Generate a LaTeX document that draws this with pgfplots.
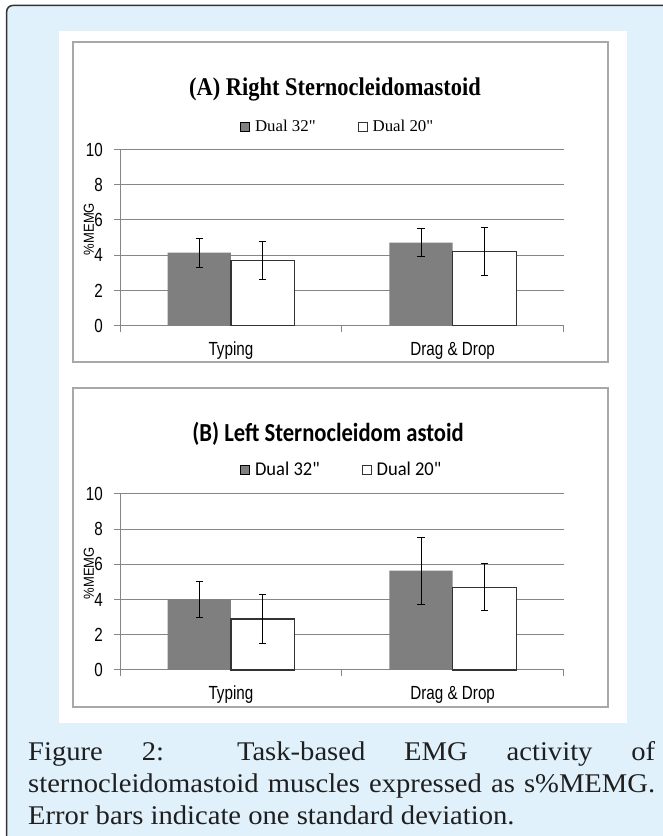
\documentclass[border=0pt]{standalone}
\usepackage{fontspec}
\usepackage{pgfplots}
\pgfplotsset{compat=1.18}
\setmainfont{Liberation Serif}
\newfontfamily\axisfont{Liberation Sans}[FakeStretch=0.8]
\newfontfamily\ylabfont{Liberation Sans}[FakeStretch=0.9]
\newfontfamily\serifA{Liberation Serif}[FakeStretch=0.88]
\newfontfamily\serifleg{Liberation Serif}[FakeStretch=1.02]
\newfontfamily\calib{Carlito}[FakeStretch=0.95]
\newfontfamily\calibT{Carlito}[FakeStretch=0.87]
\newfontfamily\capfont{Liberation Serif}[FakeStretch=1.06]
\definecolor{bgblue}{HTML}{E0F1FB}
\definecolor{bargray}{HTML}{7F7F7F}
\definecolor{gridgray}{HTML}{868686}
\definecolor{framegray}{HTML}{A8A8A8}

\pgfplotsset{
  legsq/.style={legend image code/.code={\draw[##1, line width=0.9pt] (0pt,-4.5pt) rectangle (9pt,4.5pt);}},
  emgaxis/.style={
    scale only axis, width=443.6pt, height=176.2pt,
    anchor=south west,
    xmin=-0.5, xmax=1.5, ymin=0, ymax=10,
    ybar=0pt, bar width=63.4pt,
    ytick={0,2,4,6,8,10}, yticklabels={0,2,4,6,8,10},
    xtick={0,1}, xticklabels={Typing, Drag \& Drop},
    xtick style={draw=none},
    extra x ticks={-0.5,0.5,1.5}, extra x tick labels={},
    extra x tick style={xtick style={draw=gridgray, line width=1pt}},
    tick align=outside, major tick length=6pt,
    ytick style={draw=gridgray, line width=1pt},
    ymajorgrids, grid style={gridgray, line width=1pt},
    axis x line*=bottom, axis y line*=left,
    axis line style={gridgray, line width=1pt, -},
    yticklabel style={font=\axisfont\fontsize{19}{19}\selectfont, text=black, anchor=east, inner sep=0pt, xshift=-11pt},
    xticklabel style={font=\axisfont\fontsize{19}{19}\selectfont, text=black, anchor=base, inner sep=0pt, yshift=-24pt},
    ylabel={\%MEMG},
    ylabel style={font=\ylabfont\fontsize{14.5}{14.5}\selectfont, at={(axis description cs:-0.0699,0.549)}, anchor=center, inner sep=0pt},
    legend columns=2,
    legend cell align=left,
    legend style={draw=none, fill=none, anchor=west, inner sep=0pt, nodes={inner sep=0pt},
      /tikz/every odd column/.append style={column sep=5pt},
      /tikz/every even column/.append style={column sep=42pt}},
    error bars/y dir=both, error bars/y explicit,
    error bars/error bar style={black, line width=1pt},
    error bars/error mark options={black, rotate=90, mark size=3.6pt, line width=1pt},
    clip=false,
  }
}

\begin{document}
\begin{tikzpicture}[x=1pt,y=1pt]
\useasboundingbox (0,0) rectangle (663,836);
\fill[white] (0,0) rectangle (663,836);
\begin{scope}
\clip (0,0) rectangle (663,836);
\draw[draw=black!80, line width=1.5pt, fill=bgblue, rounded corners=6pt] (6.7,-30) rectangle (700,830.5);
\end{scope}
\fill[white] (59,112.7) rectangle (627.3,805);
% panel frames
\draw[draw=framegray, line width=1.3pt] (73,474) rectangle (608,794);
\draw[draw=framegray, line width=1.3pt] (73,129) rectangle (608,448);

% ---------- Panel A ----------
\begin{axis}[emgaxis, at={(120pt,510.3pt)},
  title={\serifA\bfseries\fontsize{25.5}{25.5}\selectfont (A) Right Sternocleidomastoid},
  title style={at={(axis description cs:0.4847,1.309)}, anchor=center, inner sep=0pt},
  legend style={at={(axis description cs:0.2705,1.129)}, font=\serifleg\fontsize{16.5}{16.5}\selectfont},
]
\addplot[fill=bargray, draw=none, legsq] coordinates {(0,4.15) +- (0,0.82) (1,4.71) +- (0,0.80)};
\addplot[fill=white, draw=black!80, line width=1.2pt, legsq] coordinates {(0,3.72) +- (0,1.08) (1,4.22) +- (0,1.38)};
\legend{Dual 32", Dual 20"}
\end{axis}

% ---------- Panel B ----------
\begin{axis}[emgaxis, at={(120pt,166pt)},
  title={\calibT\bfseries\fontsize{26}{26}\selectfont (B) Left Sternocleidom astoid},
  title style={at={(axis description cs:0.469,1.306)}, anchor=center, inner sep=0pt},
  legend style={at={(axis description cs:0.2705,1.136)}, font=\calib\fontsize{19.5}{19.5}\selectfont},
]
\addplot[fill=bargray, draw=none, legsq] coordinates {(0,4.02) +- (0,1.02) (1,5.64) +- (0,1.90)};
\addplot[fill=white, draw=black!80, line width=1.2pt, legsq] coordinates {(0,2.90) +- (0,1.38) (1,4.70) +- (0,1.32)};
\legend{Dual 32", Dual 20"}
\end{axis}

% ---------- Caption ----------
\begin{scope}[every node/.style={anchor=base west, inner sep=0pt, text=black!88, font=\capfont\fontsize{27}{32}\selectfont}]
\node at (28,75) {\makebox[627pt][s]{Figure 2: Task-based EMG activity of}};
\node at (28,43) {\makebox[627pt][s]{sternocleidomastoid muscles expressed as s\%MEMG.}};
\node at (28,11) {Error bars indicate one standard deviation.};
\end{scope}
\end{tikzpicture}
\end{document}
